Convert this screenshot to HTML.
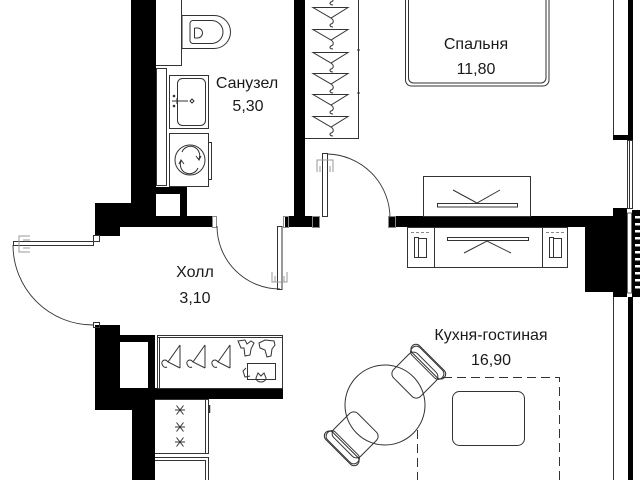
<!DOCTYPE html>
<html><head><meta charset="utf-8"><style>
html,body{margin:0;padding:0;background:#fff;}
svg{display:block}
text{font-family:"Liberation Sans","Noto Sans CJK SC",sans-serif;font-size:16px;fill:#1a1a1a;text-anchor:middle}
</style></head><body>
<svg width="640" height="480" viewBox="0 0 640 480" xmlns="http://www.w3.org/2000/svg">
<!-- walls -->
<g fill="#000">
 <path d="M131,0 H156 V187 H187 V216 H213 V227 H120 V236 H95 V203 H131 Z"/>
 <rect x="294" y="0" width="11" height="216"/>
 <rect x="285" y="216" width="35" height="11"/>
 <rect x="388" y="216" width="225" height="11"/>
 <rect x="585" y="216" width="28" height="76"/>
 <rect x="613" y="208" width="14" height="89"/>
 <rect x="628" y="0" width="5" height="137"/>
 <rect x="613" y="135" width="20" height="5"/>
 <rect x="628" y="297" width="5" height="183"/>
 <rect x="632" y="210" width="8" height="87"/>
 <path d="M95,325 H120 V335 H155 V388 H283 V399 H155 V480 H132 V410 H95 Z"/>
</g>
<rect x="156" y="194" width="24" height="22" fill="#fff"/>
<rect x="120" y="342" width="28" height="46" fill="#fff"/>
<!-- radiator/teeth -->
<g fill="#fff">
 <rect x="627.5" y="213" width="4" height="80" stroke="#444" stroke-width="0.8"/>
 <rect x="635" y="216" width="5" height="2.5"/>
 <rect x="635" y="223" width="5" height="2.5"/>
 <rect x="635" y="230" width="5" height="2.5"/>
 <rect x="635" y="237" width="5" height="2.5"/>
 <rect x="635" y="244" width="5" height="2.5"/>
 <rect x="635" y="251" width="5" height="2.5"/>
 <rect x="635" y="258" width="5" height="2.5"/>
 <rect x="635" y="265" width="5" height="2.5"/>
 <rect x="635" y="272" width="5" height="2.5"/>
 <rect x="635" y="279" width="5" height="2.5"/>
 <rect x="635" y="286" width="5" height="2.5"/>
</g>
<g fill="none" stroke="#333" stroke-width="1">
 <!-- right inner lines -->
 <line x1="613.5" y1="0" x2="613.5" y2="135"/>
 <line x1="613.5" y1="297" x2="613.5" y2="480"/>
 <rect x="627.5" y="140.5" width="5" height="68"/>
 <rect x="629.5" y="140.5" width="3" height="68"/>

 <!-- bathroom -->
 <path d="M156,65.5 H181.5 V0"/>
 <rect x="156.5" y="68.5" width="10" height="117"/>
 <path d="M182,15.5 H214 A16.5,16.5 0 0 1 214,48.5 H182 Z"/>
 <path d="M193,20.5 H211.5 A11.5,11.5 0 0 1 211.5,43.5 H193 A3,3 0 0 1 190,40.5 V23.5 A3,3 0 0 1 193,20.5 Z"/>
 <path d="M194.5,28 V38 M194.5,28 H197.5 A5,5 0 0 1 197.5,38 H194.5"/>
 <rect x="169.5" y="75.5" width="39" height="53"/>
 <rect x="177.5" y="78.5" width="28" height="47" rx="5"/>
 <path d="M172,101 H188 M177,98 V104 M190,101 L192,99 L194,101 L192,103 Z"/>
 <circle cx="174" cy="96" r="0.8" fill="#333"/>
 <circle cx="174" cy="106" r="0.8" fill="#333"/>
 <rect x="169.5" y="133.5" width="39" height="53"/>
 <rect x="208.5" y="142.5" width="3" height="37"/>
 <circle cx="190" cy="160" r="15"/>
 <path d="M182,152 A9,9 0 0 1 199,159 M196,156 L199,160 L201,156"/>
 <path d="M198,168 A9,9 0 0 1 181,161 M184,164 L181,160 L179,164"/>

 <!-- bathroom door -->
 <rect x="212.5" y="216.5" width="4" height="11" stroke="#888"/>
 <rect x="283.5" y="216.5" width="5" height="11" stroke="#888"/>
 <rect x="277.5" y="226.5" width="4.5" height="63"/>
 <path d="M217,226 A63,63 0 0 0 280,289" stroke-width="0.9"/>
 <path d="M272,272 V282 H287 V272 M275,276 V282 M284,276 V282" stroke="#999"/>

 <!-- bedroom wardrobe -->
 <path d="M305,138.5 H358.5 V0"/>
 <line x1="357" y1="50" x2="360" y2="50"/>
 <line x1="357" y1="93" x2="360" y2="93"/>
 <path d="M331,-4 c3,2 3,5 0,6 c-2,1 -1,3 2,3"/>
 <path d="M313,7.5 H348 L331,18 Z M331,18 c3,2 3,5 0,6 c-2,1 -1,3 2,3"/>
 <path d="M313,29.5 H348 L331,40 Z M331,40 c3,2 3,5 0,6 c-2,1 -1,3 2,3"/>
 <path d="M313,52.5 H348 L331,63 Z M331,63 c3,2 3,5 0,6 c-2,1 -1,3 2,3"/>
 <path d="M313,73.5 H348 L331,84 Z M331,84 c3,2 3,5 0,6 c-2,1 -1,3 2,3"/>
 <path d="M313,94.5 H348 L331,105 Z M331,105 c3,2 3,5 0,6 c-2,1 -1,3 2,3"/>
 <path d="M313,116.5 H348 L331,127 Z M331,127 c3,2 3,5 0,6 c-2,1 -1,3 2,3"/>

 <!-- bed -->
 <path d="M405.5,0 V80 A6,6 0 0 0 411.5,86 H543 A6,6 0 0 0 549,80 V0"/>
 <path d="M408.5,0 V78 A5,5 0 0 0 413.5,83 H541 A5,5 0 0 0 546,78 V0"/>

 <!-- bedroom door -->
 <rect x="312.5" y="216.5" width="7" height="11" stroke="#888"/>
 <rect x="388.5" y="216.5" width="7" height="11" stroke="#888"/>
 <rect x="322.5" y="153.5" width="5" height="63"/>
 <path d="M327,154 A64,64 0 0 1 390,218" stroke-width="0.9"/>
 <path d="M317,172 V160 H333 V172 M320,166 V172 M330,166 V172" stroke="#999"/>

 <!-- desk -->
 <rect x="423.5" y="176.5" width="107" height="40"/>
 <rect x="437.5" y="203.5" width="80" height="3.5"/>
 <path d="M453,190 L477,203 L500,190"/>

 <!-- tv cabinet -->
 <rect x="407.5" y="227.5" width="160" height="40"/>
 <line x1="434.5" y1="227" x2="434.5" y2="268"/>
 <line x1="542.5" y1="227" x2="542.5" y2="268"/>
 <path d="M411,232.5 H431 M546,232.5 H564" stroke="#888" stroke-dasharray="3,2"/>
 <rect x="414.5" y="237.5" width="4" height="20"/>
 <rect x="418.5" y="238.5" width="8" height="19"/>
 <rect x="549.5" y="237.5" width="4" height="20"/>
 <rect x="553.5" y="238.5" width="8" height="19"/>
 <rect x="447.5" y="237.5" width="81" height="3"/>
 <path d="M464,253 L487,241 L511,253"/>

 <!-- entry door -->
 <rect x="93.5" y="235.5" width="6" height="6"/>
 <rect x="93.5" y="322.5" width="6" height="5"/>
 <rect x="13.5" y="241.5" width="80" height="4"/>
 <path d="M13,245 A80,80 0 0 0 93,325" stroke-width="0.9"/>
 <path d="M30,236 H19 V252 H30 M23,240 H30 M23,248 H30" stroke="#999"/>

 <!-- hall wardrobe -->
 <rect x="157.5" y="335.5" width="125" height="53"/>
 <line x1="157" y1="337.5" x2="283" y2="337.5"/>
 <line x1="159.5" y1="337" x2="159.5" y2="388"/>
 <path d="M180,345 V368 M180,345 L168,362 L180,368 M168,362 c-3,-4 -7,-1 -6,2 c1,3 3,4 5,3"/>
 <path d="M205,345 V368 M205,345 L193,362 L205,368 M193,362 c-3,-4 -7,-1 -6,2 c1,3 3,4 5,3"/>
 <path d="M230,345 V368 M230,345 L218,362 L230,368 M218,362 c-3,-4 -7,-1 -6,2 c1,3 3,4 5,3"/>
 <path d="M238,341 L245,340 L247,344 L251,341 L254,343 L251,349 L250,355 L245,356 L244,348 L241,348 Z"/>
 <path d="M259,343 L265,340 L274,341 L275,345 L272,349 L271,356 L267,357 L265,350 L260,348 Z"/>
 <rect x="247.5" y="363.5" width="28" height="16"/>
 <path d="M246,368 L243,371 L245,377 L250,376 M256,378 A5,4 0 0 0 266,378 L264,373 L261,376 L258,373 Z"/>

 <!-- stove -->
 <path d="M155,399.5 H208.5 V453.5 H155"/>
 <line x1="205.5" y1="399" x2="205.5" y2="453"/>
 <line x1="209.5" y1="405" x2="209.5" y2="413" stroke-width="1.5"/>
 <path d="M175,410 H185 M176.5,405.5 L183.5,414.5 M183.5,405.5 L176.5,414.5"/>
 <path d="M175,427 H185 M176.5,422.5 L183.5,431.5 M183.5,422.5 L176.5,431.5"/>
 <path d="M175,442 H185 M176.5,437.5 L183.5,446.5 M183.5,437.5 L176.5,446.5"/>
 <path d="M155,457.5 H208.5 V480 M155,460.5 H205.5 V480"/>

 <!-- dining -->
 <g transform="translate(417,373) rotate(-45)">
  <rect x="-20" y="-19" width="34" height="38" rx="6"/>
  <rect x="9" y="-21" width="11" height="42" rx="5"/>
  <rect x="11" y="-22.5" width="10" height="45" rx="5"/>
 </g>
 <g transform="translate(353,437) rotate(135)">
  <rect x="-20" y="-19" width="34" height="38" rx="6"/>
  <rect x="9" y="-21" width="11" height="42" rx="5"/>
  <rect x="11" y="-22.5" width="10" height="45" rx="5"/>
 </g>
 <circle cx="385" cy="405" r="40"/>
 <path d="M443,377.5 H559.5 V480 M417.5,430 V480" stroke-dasharray="9,5"/>
 <rect x="452.5" y="391.5" width="72" height="54" rx="7"/>
</g>

<!-- labels -->
<text x="247" y="88">Санузел</text>
<text x="248" y="111">5,30</text>
<text x="476" y="49">Спальня</text>
<text x="476" y="74">11,80</text>
<text x="195" y="277">Холл</text>
<text x="195" y="303">3,10</text>
<text x="491" y="340">Кухня-гостиная</text>
<text x="491" y="365">16,90</text>
</svg>
</body></html>
